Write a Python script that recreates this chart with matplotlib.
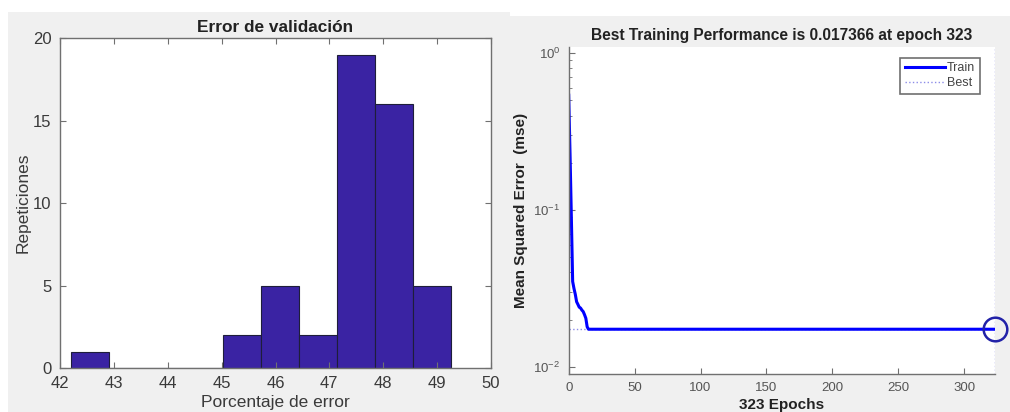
import matplotlib
matplotlib.use("Agg")
import matplotlib.pyplot as plt
from matplotlib.patches import Rectangle
from matplotlib.ticker import LogLocator, NullFormatter

plt.rcParams["font.family"] = ["Liberation Sans", "DejaVu Sans"]
plt.rcParams["mathtext.fontset"] = "custom"
plt.rcParams["mathtext.rm"] = "Liberation Sans"
plt.rcParams["mathtext.it"] = "Liberation Sans:italic"
plt.rcParams["mathtext.bf"] = "Liberation Sans:bold"

# ─── Data ─────────────────────────────────────────────────────────────────────
bin_edges = [42.2, 42.905, 43.61, 44.315, 45.02, 45.725, 46.43, 47.135, 47.84, 48.545, 49.25]
counts    = [1, 0, 0, 0, 2, 5, 2, 19, 16, 5]
hist_xticks = [42, 43, 44, 45, 46, 47, 48, 49, 50]
hist_yticks = [0, 5, 10, 15, 20]

epochs    = [0, 1, 2, 3, 4, 5, 6, 7, 8, 9, 10, 11, 12, 13, 14, 15, 323]
train_mse = [0.54, 0.23, 0.091, 0.035, 0.0316, 0.029, 0.026, 0.025, 0.024,
             0.0237, 0.023, 0.0225, 0.0215, 0.0204, 0.018, 0.017366, 0.017366]
best_epoch = 323
best_perf  = 0.017366
perf_xticks = [0, 50, 100, 150, 200, 250, 300]

BAR   = "#3a23a3"
SPINE = "#707070"
GRAY  = "#f0f0f0"

fig = plt.figure(figsize=(10.1, 4.12), dpi=100)
fig.patch.set_facecolor("white")
fig.patches.append(Rectangle((8/1010, 0), 502/1010, 400/412, transform=fig.transFigure,
                             facecolor=GRAY, edgecolor="none", zorder=-10))
fig.patches.append(Rectangle((510/1010, 0), 500/1010, 396/412, transform=fig.transFigure,
                             facecolor=GRAY, edgecolor="none", zorder=-10))

# ── 1. Histogram ──────────────────────────────────────────────────────────────
ax = fig.add_axes([60/1010, 44/412, 431/1010, 330/412])
widths = [b - a for a, b in zip(bin_edges[:-1], bin_edges[1:])]
ax.bar(bin_edges[:-1], counts, width=widths, align="edge", color=BAR,
       edgecolor="#1e1e3a", linewidth=0.8)
ax.set_xlim(42, 50)
ax.set_ylim(0, 20)
ax.set_xticks(hist_xticks)
ax.set_yticks(hist_yticks)
ax.tick_params(direction="in", top=True, right=True, length=4, width=0.8,
               colors=SPINE, labelcolor="#3a3a3a", labelsize=12, pad=6)
for s in ax.spines.values():
    s.set_color(SPINE); s.set_linewidth(1.0)
ax.set_title("Error de validación", fontsize=12.4, fontweight="bold",
             color="#222222", pad=4)
ax.set_xlabel("Porcentaje de error", fontsize=12.5, color="#3a3a3a", labelpad=3)
ax.set_ylabel("Repeticiones", fontsize=12.5, color="#3a3a3a", labelpad=2)

# ── 2. Training performance ───────────────────────────────────────────────────
ax = fig.add_axes([568.7/1010, 38/412, 425.8/1010, 327.3/412])
ax.semilogy(epochs, train_mse, color="#0000ff", lw=2.2, label="Train")
ax.axhline(best_perf, color="#8c8ce8", lw=1.0, ls=":", label="Best", zorder=1)
ax.axvline(best_epoch, color="#8c8ce8", lw=1.0, ls=":", zorder=1)
ax.plot([best_epoch], [best_perf], "o", ms=17, mfc="none", mec="#2222a8",
        mew=1.8, clip_on=False)
ax.set_xlim(0, 323)
ax.set_ylim(0.009, 1.1)
ax.set_xticks(perf_xticks)
ax.yaxis.set_major_locator(LogLocator(base=10, numticks=5))
ax.yaxis.set_minor_locator(LogLocator(base=10, subs=range(2, 10), numticks=20))
ax.yaxis.set_minor_formatter(NullFormatter())
ax.spines["top"].set_visible(False)
ax.spines["right"].set_visible(False)
for s in ("left", "bottom"):
    ax.spines[s].set_color(SPINE); ax.spines[s].set_linewidth(1.0)
ax.tick_params(which="major", direction="in", length=4, width=0.8,
               colors=SPINE, labelcolor="#555555", labelsize=9.5, pad=6)
ax.tick_params(which="minor", direction="in", length=2, width=0.6, colors=SPINE)
ax.set_title("Best Training Performance is 0.017366 at epoch 323",
             fontsize=11.2, fontweight="bold", color="#222222", pad=5)
ax.set_xlabel("323 Epochs", fontsize=11, fontweight="bold", color="#222222", labelpad=3)
ax.set_ylabel("Mean Squared Error  (mse)", fontsize=11, fontweight="bold",
              color="#222222", labelpad=4)
leg = ax.legend(loc="upper right", bbox_to_anchor=(0.98, 0.985), fontsize=9,
                fancybox=False, framealpha=1, edgecolor="#707070",
                handlelength=3.2, handletextpad=0.2, borderpad=0.35, labelspacing=0.25)
leg.get_frame().set_linewidth(1.2)
for t in leg.get_texts():
    t.set_color("#444444")

plt.savefig("out.png", dpi=100)
plt.close()
